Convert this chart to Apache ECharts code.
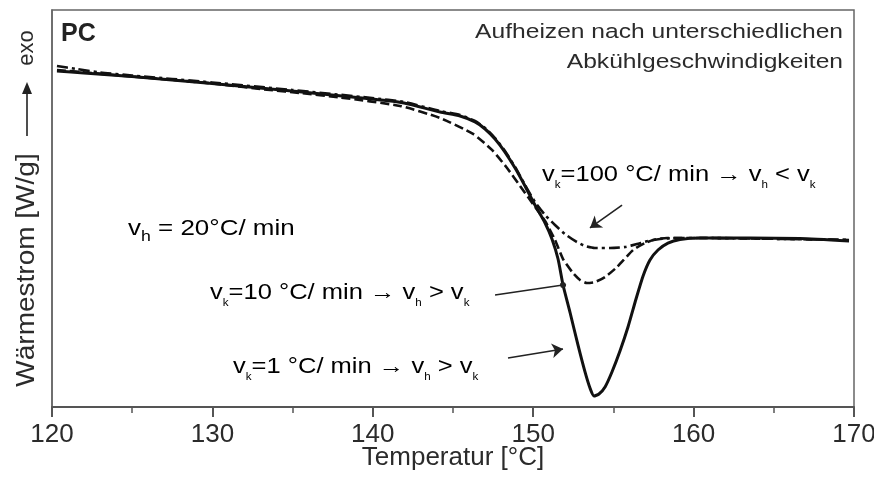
<!DOCTYPE html>
<html>
<head>
<meta charset="utf-8">
<script src="https://cdn.jsdelivr.net/npm/echarts@6/dist/echarts.min.js"></script>
<style>
  html, body { margin: 0; padding: 0; background: #fff; overflow: hidden; }
  #chart { width: 874px; height: 477px; }
</style>
</head>
<body>
<div id="chart"></div>
<script>
// DSC heating curves of PC (heating rate 20 °C/min) after cooling at different rates.
// Heat flow in arbitrary W/g units (exo up).

// cooling rate 1 °C/min (solid)
const tempSlow = [120.31, 121.99, 124.99, 129.98, 134.96, 139.95, 141.95, 144.19, 145.44, 146.37, 147.0, 147.62, 148.24, 148.87, 149.49, 150.11, 150.74, 151.17, 151.55, 151.86, 152.29, 152.79, 153.23, 153.54, 153.79, 154.10, 154.48, 154.91, 155.41, 155.91, 156.41, 156.85, 157.28, 157.78, 158.40, 159.15, 160.40, 166.63, 169.69];
const heatSlow = [3.386, 3.365, 3.330, 3.260, 3.184, 3.103, 3.063, 2.972, 2.932, 2.872, 2.801, 2.700, 2.569, 2.408, 2.227, 2.035, 1.854, 1.693, 1.491, 1.229, 0.957, 0.625, 0.353, 0.191, 0.111, 0.131, 0.202, 0.353, 0.564, 0.806, 1.088, 1.320, 1.481, 1.582, 1.652, 1.688, 1.703, 1.698, 1.673];

// cooling rate 10 °C/min (dashed)
const tempMid = [120.31, 124.99, 129.98, 133.59, 135.46, 137.96, 141.70, 144.19, 146.25, 147.43, 148.37, 149.18, 149.99, 150.74, 151.36, 151.86, 152.48, 152.92, 153.35, 153.85, 154.48, 155.23, 156.23, 156.97, 157.59, 158.34, 160.40, 169.69];
const heatMid = [3.396, 3.330, 3.260, 3.194, 3.164, 3.119, 3.033, 2.912, 2.751, 2.590, 2.408, 2.227, 2.045, 1.874, 1.683, 1.491, 1.350, 1.280, 1.249, 1.259, 1.310, 1.411, 1.582, 1.652, 1.688, 1.703, 1.703, 1.683];

// cooling rate 100 °C/min (dash-dot)
const tempFast = [120.31, 121.50, 122.99, 124.99, 129.98, 134.96, 139.95, 141.95, 144.19, 145.44, 146.37, 147.0, 147.62, 148.24, 148.87, 149.49, 150.11, 150.74, 151.36, 151.98, 152.61, 153.23, 153.85, 154.79, 155.72, 156.47, 157.16, 157.91, 158.90, 160.40, 169.69];
const heatFast = [3.436, 3.406, 3.370, 3.340, 3.270, 3.194, 3.113, 3.073, 2.982, 2.942, 2.882, 2.811, 2.710, 2.579, 2.418, 2.237, 2.066, 1.935, 1.834, 1.743, 1.673, 1.622, 1.602, 1.602, 1.612, 1.642, 1.673, 1.693, 1.703, 1.703, 1.683];

// x axis ticks
const tempTicks = [120, 130, 140, 150, 160, 170];

const zip = (xs, ys) => xs.map((x, i) => [x, ys[i]]);

// annotation arrows [from, to] in (°C, W/g)
const arrowFast = [[155.54, 2.035], [153.54, 1.804]];
const arrowMid  = [[147.62, 1.129], [151.86, 1.229]];
const arrowSlow = [[148.43, 0.494], [151.86, 0.584]];

const ink = '#111';
const textGray = '#2b2b2b';
const font = 'Liberation Sans, Arial, Helvetica, sans-serif';

function annoRich(size) {
  return {
    n: { fontSize: size, fontFamily: font, color: textGray, lineHeight: size + 6, verticalAlign: 'bottom', padding: [0, 0, 4, 0] },
    s: { fontSize: 10, fontFamily: font, color: textGray, lineHeight: 10, verticalAlign: 'bottom' }
  };
}

function arrowLine(pts, endSymbol, endSize) {
  return [
    { coord: pts[0], symbol: 'none' },
    { coord: pts[1], symbol: endSymbol, symbolSize: endSize }
  ];
}

const chart = echarts.init(document.getElementById('chart'), null, { renderer: 'canvas', width: 874, height: 477 });

chart.setOption({
  animation: false,
  backgroundColor: '#fff',
  grid: {
    left: 52, right: 20, top: 10, bottom: 70,
    containLabel: false,
    outerBoundsMode: 'none',
    show: true, borderColor: '#666', borderWidth: 1.5, backgroundColor: 'transparent'
  },
  xAxis: {
    type: 'value',
    min: tempTicks[0],
    max: tempTicks[tempTicks.length - 1],
    interval: 10,
    name: 'Temperatur [°C]',
    nameLocation: 'middle',
    nameGap: 38,
    nameMoveOverlap: false,
    nameTextStyle: { fontSize: 26, fontFamily: font, color: textGray },
    axisLine: { show: true, onZero: false, lineStyle: { color: '#555', width: 2 } },
    axisTick: { show: true, length: 10, lineStyle: { color: '#555', width: 2 } },
    minorTick: { show: true, splitNumber: 2, length: 6, lineStyle: { color: '#555', width: 1.5 } },
    axisLabel: { fontSize: 26, fontFamily: font, color: textGray, margin: 15 },
    splitLine: { show: false }
  },
  yAxis: {
    type: 'value',
    min: 0,
    max: 4,
    axisLine: { show: true, lineStyle: { color: '#666', width: 1.5 } },
    axisTick: { show: false },
    axisLabel: { show: false },
    splitLine: { show: false }
  },
  series: [
    {
      name: 'vk = 1 °C/min',
      type: 'line',
      data: zip(tempSlow, heatSlow),
      showSymbol: false,
      smooth: 0.2,
      lineStyle: { color: ink, width: 3 },
      z: 3,
      markLine: {
        silent: true,
        animation: false,
        label: { show: false },
        lineStyle: { color: '#222', width: 1.6, type: 'solid' },
        data: [
          arrowLine(arrowFast, 'arrow', 11),
          arrowLine(arrowMid, 'circle', 6),
          arrowLine(arrowSlow, 'arrow', 11)
        ]
      }
    },
    {
      name: 'vk = 10 °C/min',
      type: 'line',
      data: zip(tempMid, heatMid),
      showSymbol: false,
      smooth: 0.2,
      lineStyle: { color: ink, width: 2.6, type: [9, 4] },
      z: 2
    },
    {
      name: 'vk = 100 °C/min',
      type: 'line',
      data: zip(tempFast, heatFast),
      showSymbol: false,
      smooth: 0.2,
      lineStyle: { color: ink, width: 2.6, type: [11, 4, 3, 4] },
      z: 2
    }
  ],
  graphic: [
    // sample name
    { type: 'text', x: 61, y: 22, style: { text: 'PC', fontSize: 25, fontWeight: 'bold', fontFamily: font, fill: '#222' } },
    // description, top right
    { type: 'text', x: 843, y: 32, scaleX: 1.2, style: { text: 'Aufheizen nach unterschiedlichen', fontSize: 20.5, fontFamily: font, fill: textGray, align: 'right', verticalAlign: 'middle' } },
    { type: 'text', x: 843, y: 62, scaleX: 1.2, style: { text: 'Abkühlgeschwindigkeiten', fontSize: 20.5, fontFamily: font, fill: textGray, align: 'right', verticalAlign: 'middle' } },
    // heating rate
    { type: 'text', x: 128, y: 230, scaleX: 1.18, style: {
        text: '{n|v}{s|h}{n| = 20°C/ min}', verticalAlign: 'middle',
        rich: {
          n: { fontSize: 22, fontFamily: font, color: '#000', lineHeight: 28, verticalAlign: 'bottom', padding: [0, 0, 4, 0] },
          s: { fontSize: 15, fontFamily: font, color: '#000', lineHeight: 15, verticalAlign: 'bottom' }
        } } },
    // curve labels
    { type: 'text', x: 542, y: 176, scaleX: 1.16, style: { text: '{n|v}{s|k}{n|=100 °C/ min → v}{s|h}{n| < v}{s|k}', verticalAlign: 'middle', rich: annoRich(22) } },
    { type: 'text', x: 210, y: 294, scaleX: 1.16, style: { text: '{n|v}{s|k}{n|=10 °C/ min → v}{s|h}{n| > v}{s|k}', verticalAlign: 'middle', rich: annoRich(22) } },
    { type: 'text', x: 233, y: 368, scaleX: 1.16, style: { text: '{n|v}{s|k}{n|=1 °C/ min → v}{s|h}{n| > v}{s|k}', verticalAlign: 'middle', rich: annoRich(22) } },
    // y axis caption with exo arrow
    { type: 'text', x: 27, y: 270, rotation: Math.PI / 2, scaleX: 1.12, style: { text: 'Wärmestrom [W/g]', fontSize: 25, fontFamily: font, fill: textGray, align: 'center', verticalAlign: 'middle' } },
    { type: 'line', shape: { x1: 27, y1: 136, x2: 27, y2: 92 }, style: { stroke: '#222', lineWidth: 1.6 } },
    { type: 'polygon', shape: { points: [[27, 82], [22, 94], [32, 94]] }, style: { fill: '#222' } },
    { type: 'text', x: 27, y: 48, rotation: Math.PI / 2, style: { text: 'exo', fontSize: 22, fontFamily: font, fill: textGray, align: 'center', verticalAlign: 'middle' } }
  ]
});
</script>
</body>
</html>
